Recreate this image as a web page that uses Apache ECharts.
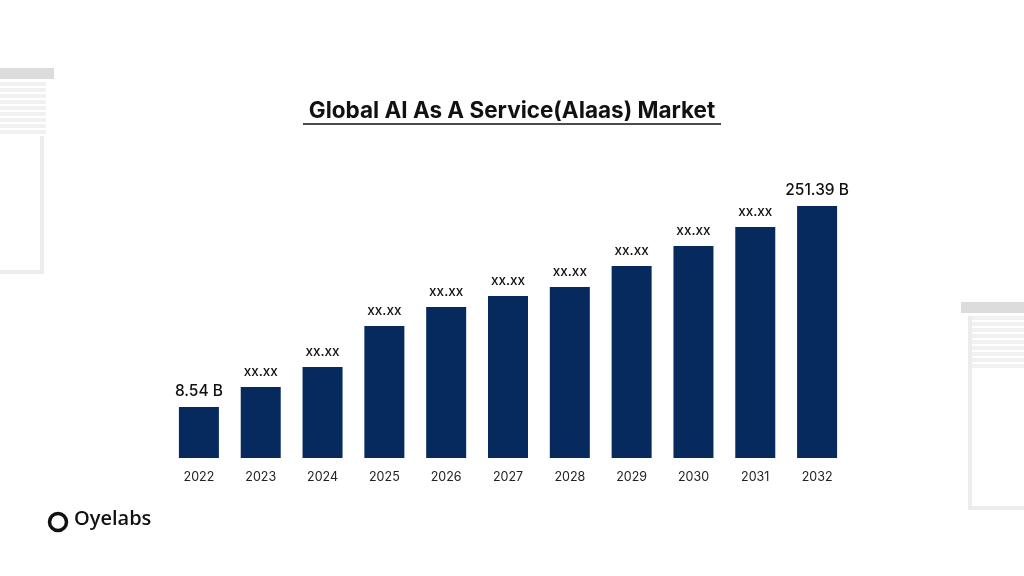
<!DOCTYPE html>
<html><head><meta charset="utf-8">
<script src="https://cdn.jsdelivr.net/npm/echarts@6/dist/echarts.min.js"></script>
<style>html,body{margin:0;background:#fff}#c{width:1024px;height:576px}</style></head>
<body><div id="c"></div>
<script>
const years=['2022','2023','2024','2025','2026','2027','2028','2029','2030','2031','2032'];
const values=[51,71,91,132,151,162,171,192,212,231,252];
const labels=['8.54 B','xx.xx','xx.xx','xx.xx','xx.xx','xx.xx','xx.xx','xx.xx','xx.xx','xx.xx','251.39 B'];
const chart=echarts.init(document.getElementById('c'));
const g='#ececec';
const deco=[];
deco.push({type:'rect',shape:{x:0,y:68,width:54,height:11},style:{fill:'#dcdcdc'}});
for(let i=0;i<9;i++)deco.push({type:'rect',shape:{x:0,y:82+i*6,width:46,height:4},style:{fill:'#f1f1f1'}});
deco.push({type:'rect',shape:{x:40,y:136,width:4,height:138},style:{fill:g}});
deco.push({type:'rect',shape:{x:0,y:270,width:44,height:4},style:{fill:g}});
deco.push({type:'rect',shape:{x:961,y:302,width:63,height:11},style:{fill:'#dcdcdc'}});
for(let i=0;i<9;i++)deco.push({type:'rect',shape:{x:968,y:316+i*6,width:56,height:4},style:{fill:'#f1f1f1'}});
deco.push({type:'rect',shape:{x:968,y:316,width:4,height:194},style:{fill:g}});
deco.push({type:'rect',shape:{x:968,y:506,width:56,height:4},style:{fill:g}});
deco.push({type:'line',shape:{x1:303,y1:124,x2:721,y2:124},style:{stroke:'#111',lineWidth:1.5}});
deco.push({type:'circle',shape:{cx:58,cy:522,r:8.5},style:{fill:'none',stroke:'#111',lineWidth:3.5}});
deco.push({type:'text',left:74,top:509,style:{text:'Oyelabs',font:'600 20px "Open Sans"',fill:'#111'}});
chart.setOption({
  animation:false,
  title:{text:'Global AI As A Service(AIaas) Market',left:'center',top:95,textStyle:{fontFamily:'Inter',fontWeight:'bold',fontSize:22.5,color:'#111'}},
  graphic:deco,
  grid:{left:168,right:176,top:158,bottom:118},
  xAxis:{type:'category',data:years,axisLine:{show:false},axisTick:{show:false},
    axisLabel:{margin:13,fontFamily:'Inter',fontSize:12.5,color:'#222'}},
  yAxis:{type:'value',min:0,max:300,show:false},
  series:[{type:'bar',barWidth:40,itemStyle:{color:'#062a5e'},
    data:values.map((v,i)=>({value:v,label:(i==0||i==10)?{fontSize:15.5}:{}})),
    label:{show:true,position:'top',distance:8,fontFamily:'Inter',color:'#111',fontSize:13.5,fontWeight:500,
      formatter:p=>labels[p.dataIndex]}}]
});
</script></body></html>
